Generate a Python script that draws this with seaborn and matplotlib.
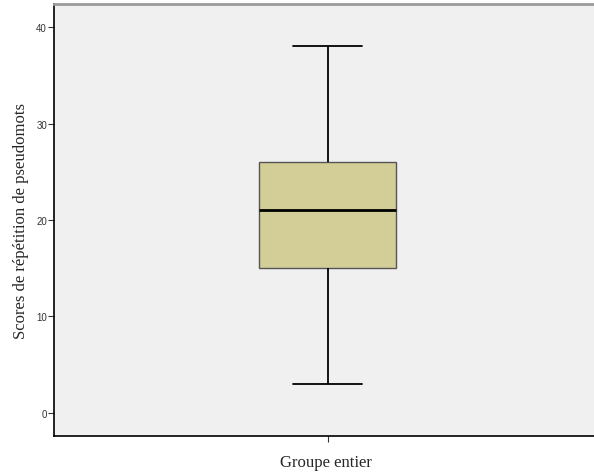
import numpy as np
import pandas as pd
import matplotlib
matplotlib.use("Agg")
import matplotlib.pyplot as plt
import seaborn as sns

# five-number summary (min, Q1, median, Q3, max)
scores = [3, 15, 21, 26, 38]
group_label = "Groupe entier"
y_ticks = [0, 10, 20, 30, 40]

df = pd.DataFrame({"groupe": [group_label] * len(scores), "score": scores})

sns.set_style("white")
plt.rcParams["font.family"] = ["Liberation Sans", "DejaVu Sans"]

fig = plt.figure(figsize=(5.94, 4.77), dpi=100)
ax = fig.add_axes([0.0909, 0.0839, 0.915, 0.9056])
ax.set_facecolor("#F0F0F0")

sns.boxplot(data=df, x="groupe", y="score", ax=ax, width=0.25, whis=(0, 100),
            color="#D3CE97", saturation=1, linecolor="#000000", linewidth=1.3,
            boxprops=dict(edgecolor="#555555", linewidth=1.0),
            medianprops=dict(color="#000000", linewidth=2.0),
            whiskerprops=dict(color="#000000", linewidth=1.3),
            capprops=dict(color="#000000", linewidth=1.3))

ax.set_xlim(-0.5, 0.4936)
ax.set_ylim(-2.4, 42.4)
ax.set_yticks(y_ticks)
ax.set_yticklabels([str(t) for t in y_ticks], fontsize=7, color="#333333")
ax.set_xticks([0])
ax.set_xticklabels([""])
ax.tick_params(axis="both", left=True, bottom=True, direction="out", length=4,
               width=0.8, color="#333333", pad=1)

for side in ["left", "bottom"]:
    ax.spines[side].set_color("#000000")
    ax.spines[side].set_linewidth(1.2)
ax.spines["top"].set_color("#9A9A9A")
ax.spines["top"].set_linewidth(2.0)
ax.spines["right"].set_visible(False)

ax.set_xlabel(group_label, family=["Liberation Serif", "DejaVu Serif"], fontsize=12, labelpad=8)
ax.set_ylabel("Scores de répétition de pseudomots", family=["Liberation Serif", "DejaVu Serif"],
              fontsize=12, labelpad=5)

fig.savefig("out.png", dpi=100)
